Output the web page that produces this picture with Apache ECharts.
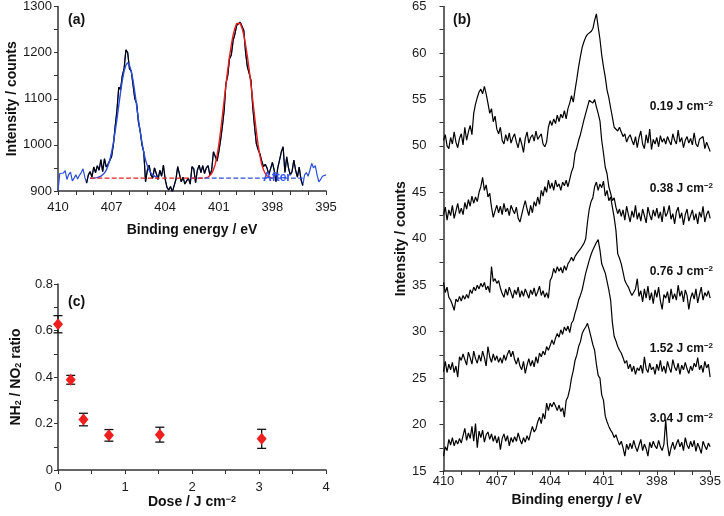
<!DOCTYPE html>
<html>
<head>
<meta charset="utf-8">
<script src="https://cdn.jsdelivr.net/npm/echarts@6/dist/echarts.min.js"></script>
<style>html,body{margin:0;padding:0;background:#fff}#c{width:724px;height:516px}</style>
</head>
<body>
<div id="c"></div>
<script>
// ---------- Panel (a): N 1s spectrum with fits ----------
const aStart = 410, aStep = 0.1;
const aRaw = [900,938,940,939,944,925,936,941,922,928,
935,926,934,940,948,930,917,935,942,930,
952,940,955,945,968,942,970,952,958,962,
975,1000,1040,1075,1125,1120,1150,1165,1206,1200,
1165,1160,1158,1100,1090,1050,1030,1000,985,920,
945,956,935,928,950,938,925,945,932,956,
925,908,902,910,898,900,925,953,950,920,
930,915,922,928,915,953,948,918,945,956,
940,955,938,950,955,935,945,985,982,965,
985,1010,1040,1075,1133,1150,1187,1195,1226,1240,
1259,1262,1266,1264,1248,1200,1169,1155,1140,1082,
1040,1003,990,981,965,953,958,950,935,938,
962,945,920,950,967,985,996,940,974,950,
935,942,967,945,930,952,925,912,935,940,
932,945,960,950,955,935,920,925,932,928,935];
const aBlackFrom = 16, aBlackTo = 137;           // index range drawn in black
const aBlueFitStart = 408.2;
const aBlueFit = [928,928,928,929,929,930,932,935,939,945,955,967,984,1005,1029,1056,1085,1114,1140,1160,1173,1178,
1173,1160,1140,1114,1085,1056,1029,1005,984,967,955,945,939,935,932,930,929];
const aRedFitStart = 401.8;
const aRedFit = [928,929,930,933,938,946,958,976,1000,1030,1063,1097,1131,1163,1192,1217,1238,1253,1263,1266,
1263,1253,1238,1217,1192,1163,1131,1097,1063,1030,1000,976,958,946,938,933,930,929,928];
const aBaseline = 928;
const aBaseRed = [408.2, 401.8];
const aBaseBlue = [402.6, 396.3];

// ---------- Panel (b): spectra vs dose ----------
const bStart = 410, bStep = 0.1;
const bLabels = ['0.19', '0.38', '0.76', '1.52', '3.04'];
const b019 = [50.6,51.2,50.0,49.7,50.9,50.2,51.5,50.4,49.8,50.8,
51.3,50.1,52.0,50.6,51.5,52.2,51.2,53.5,54.5,55.2,
55.8,56.1,55.6,56.4,55.6,54.6,53.5,54.0,52.6,53.2,
51.8,51.3,52.0,50.6,50.2,51.2,50.5,51.4,50.3,50.9,
51.3,50.4,49.8,50.9,50.2,49.3,50.8,51.5,50.3,50.9,
51.2,50.5,51.6,50.7,50.9,51.3,50.2,49.9,50.4,52.0,
52.7,52.2,52.9,52.4,53.3,52.6,53.4,53.0,53.8,52.9,
54.0,54.6,55.4,54.7,56.0,57.2,58.5,59.6,60.6,61.2,
61.7,62.0,61.8,62.3,62.6,63.5,64.2,62.8,61.5,59.8,
58.5,57.4,56.0,55.2,54.1,53.1,52.0,52.2,51.6,52.0,
51.5,51.0,51.3,50.4,50.9,51.2,50.6,50.1,51.0,49.8,
50.9,51.6,50.2,49.7,51.2,50.3,51.8,49.6,50.7,50.2,
50.9,49.9,51.1,50.4,50.8,50.2,51.0,50.5,50.1,51.3,
50.6,50.2,51.7,50.4,50.9,49.8,50.6,51.0,50.3,50.8,
50.1,51.4,50.2,49.9,50.7,50.5,51.0,49.7,50.4,50.6,49.4];
const b038 = [42.6,43.4,42.0,43.1,42.5,43.6,42.2,43.0,43.8,42.7,
43.3,42.6,43.9,43.2,44.2,43.5,44.6,43.8,44.5,44.0,
45.0,45.6,46.6,45.2,45.8,44.5,44.9,43.4,42.3,43.0,
43.6,42.8,43.5,42.6,43.8,42.9,43.3,42.5,43.6,43.1,
42.7,43.4,42.2,41.8,42.0,43.4,44.1,43.2,42.5,43.6,
42.8,44.0,43.5,44.5,43.7,45.2,44.6,45.6,45.0,46.3,
45.4,46.0,45.2,46.3,45.6,45.9,45.2,46.1,45.7,46.3,
45.6,46.4,47.2,47.7,49.2,49.8,50.6,51.2,52.0,52.8,
53.5,54.2,54.9,55.1,54.6,55.0,54.2,53.5,52.7,50.6,
49.2,47.7,47.0,45.6,44.9,44.1,44.4,43.4,42.7,43.2,
42.4,43.1,42.0,43.5,42.6,41.8,43.0,42.3,43.6,42.1,
42.8,41.9,43.2,42.5,41.7,43.4,42.6,42.0,43.1,42.4,
43.3,42.2,42.9,41.8,43.5,42.4,42.8,43.6,42.1,42.7,
41.6,42.9,43.4,42.2,42.8,41.5,42.6,43.2,41.9,42.5,
43.1,42.0,42.7,41.6,42.9,42.3,43.5,41.8,42.6,43.0,42.2];
const b076 = [35.3,34.2,34.8,33.7,33.4,32.9,32.3,33.5,33.2,33.8,
33.3,33.9,33.5,34.0,33.6,34.5,34.1,34.8,34.4,35.0,
34.6,35.2,34.8,35.3,34.5,34.9,34.2,37.0,35.4,35.7,
35.2,35.5,34.7,34.1,33.7,34.6,33.9,34.8,34.2,33.6,
34.5,34.0,34.8,33.7,34.4,33.8,34.6,34.1,33.6,34.5,
34.0,34.7,33.8,34.3,34.9,33.9,34.4,33.7,34.2,33.6,
35.5,35.9,36.8,36.3,37.0,36.5,36.9,36.3,37.1,36.6,
37.3,37.6,38.0,37.6,38.1,38.4,38.6,38.9,39.1,39.5,
40.0,41.8,43.2,44.0,44.4,45.6,46.1,45.2,45.9,45.5,
46.2,44.6,45.2,44.1,44.5,43.4,42.3,40.9,38.4,37.9,
37.3,36.4,35.5,35.1,34.8,34.3,33.9,34.1,34.6,35.7,
33.8,34.4,33.2,34.6,33.6,34.9,33.4,34.2,33.0,34.5,
33.7,34.8,33.3,32.4,34.0,33.6,34.3,33.1,34.6,33.5,
34.1,33.4,35.0,33.8,34.4,33.2,34.5,33.9,32.4,33.6,
34.2,33.5,34.6,33.1,34.0,34.8,33.4,34.2,33.8,34.4,33.6];
const b152 = [25.7,26.8,25.6,26.5,25.9,26.7,25.6,26.3,25.1,27.3,
26.9,27.6,27.0,26.4,27.8,27.2,26.5,27.9,27.1,26.6,
27.5,26.8,27.9,27.2,26.3,28.4,27.3,26.7,27.6,26.9,
27.4,26.7,27.2,26.6,27.5,26.9,27.6,28.0,27.3,27.9,
27.0,26.5,27.2,26.3,25.9,26.8,25.5,26.4,27.1,26.3,
26.9,26.2,27.3,26.6,27.7,27.3,27.9,27.5,28.4,28.0,
28.5,29.1,28.6,29.3,29.8,29.4,30.2,29.7,30.5,30.1,
30.6,29.9,30.9,31.2,32.0,32.6,33.4,33.9,34.5,35.4,
36.3,37.0,37.7,38.3,38.8,39.2,39.6,39.9,38.8,37.3,
36.8,36.3,35.4,34.5,33.4,31.0,29.5,29.0,28.4,28.0,
27.7,27.2,26.6,26.9,26.0,26.5,25.7,26.3,25.4,26.1,
25.8,26.4,25.5,27.3,26.0,25.6,26.6,25.9,26.2,25.4,
26.5,25.8,26.9,25.7,26.3,25.5,26.8,26.1,25.6,27.0,
26.2,25.8,26.6,25.4,26.4,25.9,26.7,26.0,25.5,26.3,
25.8,26.6,26.2,27.2,25.9,26.4,25.6,26.8,26.1,26.5,25.1];
const b304 = [16.6,17.6,17.2,18.4,17.8,18.6,17.7,18.3,17.9,18.5,
18.0,18.8,19.6,18.3,19.1,18.5,19.8,18.2,20.1,17.5,
19.3,18.6,19.4,18.1,18.9,19.2,18.4,19.0,18.2,18.8,
18.0,18.7,17.3,18.5,19.0,18.2,18.8,17.7,18.6,18.1,
18.7,18.2,19.1,18.4,17.9,18.6,18.1,18.8,18.3,19.1,
19.8,19.2,19.5,20.3,20.8,20.1,21.2,20.6,22.3,21.5,
22.3,21.9,22.4,22.0,21.5,22.1,21.4,21.8,20.8,22.6,
23.0,23.8,25.0,25.8,26.9,27.5,28.4,28.9,29.8,30.2,
30.5,30.9,30.2,29.4,28.6,28.0,26.5,25.3,25.0,23.2,
22.6,20.9,20.3,19.8,19.4,19.1,18.6,18.9,18.3,17.8,
18.2,17.5,16.6,17.9,17.3,18.0,17.4,18.3,17.6,17.1,
17.8,18.4,17.2,17.9,17.4,16.6,18.1,17.5,18.2,17.7,
17.4,18.3,17.6,17.2,17.9,20.5,17.8,16.6,17.5,18.1,
17.3,17.9,18.4,17.6,18.1,17.2,18.6,17.8,17.4,18.2,
17.6,18.3,17.1,18.0,17.5,16.9,18.2,17.7,17.3,18.0,17.6];

// ---------- Panel (c): NH2/NO2 ratio vs dose ----------
const cDose = [0, 0.19, 0.38, 0.76, 1.52, 3.04];
const cRatio = [0.627, 0.388, 0.217, 0.149, 0.152, 0.134];
const cErr = [0.037, 0.019, 0.027, 0.025, 0.032, 0.041];

// ---------- helpers ----------
const FONT = "'Liberation Sans', Arial, Helvetica, sans-serif";
const AX = '#333';
const toXY = (start, step, arr) => arr.map((v, i) => [+(start - i * step).toFixed(2), v]);
const plainNum = v => String(+(+v).toFixed(3));

function baseAxis(extra) {
  return Object.assign({
    type: 'value',
    axisLine: { show: true, onZero: false, lineStyle: { color: AX, width: 1.5 } },
    axisTick: { show: true, inside: false, length: 4, lineStyle: { color: AX, width: 1 } },
    minorTick: { show: true, length: 4, lineStyle: { color: AX, width: 1 } },
    splitLine: { show: false },
    minorSplitLine: { show: false },
    nameLocation: 'middle',
    nameTextStyle: { fontFamily: FONT, fontWeight: 'bold', fontSize: 14, color: '#111' }
  }, extra);
}
function lab(margin) {
  return { show: true, margin: margin, fontFamily: FONT, fontSize: 13, color: '#1a1a1a', formatter: plainNum };
}

const chart = echarts.init(document.getElementById('c'), null, { renderer: 'canvas', width: 724, height: 516 });

const lineStyle = (color, w, type) => ({ color: color, width: w, type: type || 'solid' });
const mkLine = (idx, data, color, w, z, type) => ({
  type: 'line', xAxisIndex: idx, yAxisIndex: idx, data: data, showSymbol: false, symbol: 'none',
  lineStyle: lineStyle(color, w, type), itemStyle: { color: color }, z: z, animation: false, silent: true
});

const aAll = toXY(aStart, aStep, aRaw);
const bSeriesData = [b019, b038, b076, b152, b304];

const series = [
  mkLine(0, aAll, '#2b4fd6', 1.2, 2),
  mkLine(0, aAll.slice(aBlackFrom, aBlackTo + 1), '#000', 1.2, 3),
  mkLine(0, toXY(aBlueFitStart, 0.1, aBlueFit), '#2b4fd6', 1.4, 4),
  mkLine(0, toXY(aRedFitStart, 0.1, aRedFit), '#e8201c', 1.4, 5),
  mkLine(0, [[aBaseBlue[0], aBaseline], [aBaseBlue[1], aBaseline]], '#2b4fd6', 1.2, 6, 'dashed'),
  mkLine(0, [[aBaseRed[0], aBaseline], [aBaseRed[1], aBaseline]], '#e8201c', 1.2, 7, 'dashed')
];
bSeriesData.forEach(arr => series.push(mkLine(1, toXY(bStart, bStep, arr), '#000', 1.2, 3)));

series.push({
  type: 'custom', xAxisIndex: 2, yAxisIndex: 2, clip: false, animation: false, silent: true, z: 3,
  data: cDose.map((d, i) => [d, cRatio[i], cRatio[i] - cErr[i], cRatio[i] + cErr[i]]),
  encode: { x: 0, y: [1, 2, 3] },
  renderItem: function (params, api) {
    const x = api.value(0);
    const lo = api.coord([x, api.value(2)]);
    const hi = api.coord([x, api.value(3)]);
    const h = 4.5;
    const st = { stroke: '#111', lineWidth: 1.3 };
    return { type: 'group', children: [
      { type: 'line', shape: { x1: lo[0], y1: lo[1], x2: hi[0], y2: hi[1] }, style: st },
      { type: 'line', shape: { x1: lo[0] - h, y1: lo[1], x2: lo[0] + h, y2: lo[1] }, style: st },
      { type: 'line', shape: { x1: hi[0] - h, y1: hi[1], x2: hi[0] + h, y2: hi[1] }, style: st }
    ] };
  }
});
series.push({
  type: 'scatter', xAxisIndex: 2, yAxisIndex: 2, symbol: 'diamond', symbolSize: [10, 12],
  data: cDose.map((d, i) => [d, cRatio[i]]), itemStyle: { color: '#ee1f1f', opacity: 1 },
  z: 5, animation: false, silent: true
});

const energyAxis = (gi, labMargin, nameGap) => baseAxis({
  gridIndex: gi, min: 395, max: 410, interval: 3, inverse: true,
  minorTick: { show: true, splitNumber: 3, length: 4, lineStyle: { color: AX, width: 1 } },
  axisLabel: lab(labMargin), name: 'Binding energy / eV', nameGap: nameGap
});

const doseLabel = (txt, y) => ({
  type: 'text', x: 713, y: y, silent: true, z: 100,
  style: {
    text: '{m|' + txt + ' J cm}{s|\u22122}', x: 0, y: 0, align: 'right', verticalAlign: 'middle',
    textAlign: 'right', textVerticalAlign: 'middle',
    rich: {
      m: { fontFamily: FONT, fontWeight: 'bold', fontSize: 12, fill: '#111', color: '#111', lineHeight: 14 },
      s: { fontFamily: FONT, fontWeight: 'bold', fontSize: 8, fill: '#111', color: '#111', verticalAlign: 'top', lineHeight: 14 }
    }
  }
});
const panelLabel = (txt, x, y) => ({
  type: 'text', x: x, y: y, silent: true, z: 100,
  style: { text: txt, font: 'bold 14px ' + FONT, fill: '#111', textVerticalAlign: 'middle', verticalAlign: 'middle' }
});

const option = {
  backgroundColor: '#fff',
  animation: false,
  grid: [
    { left: 58, top: 6, width: 268, height: 185 },
    { left: 443.5, top: 6, width: 269, height: 465 },
    { left: 58, top: 284, width: 268, height: 186 }
  ],
  xAxis: [
    energyAxis(0, 10, 32),
    energyAxis(1, 4, 20),
    baseAxis({ gridIndex: 2, min: 0, max: 4, interval: 1,
      minorTick: { show: true, splitNumber: 2, length: 4, lineStyle: { color: AX, width: 1 } },
      axisLabel: lab(11), name: 'Dose / J cm{s|\u22122}', nameGap: 23,
      nameTextStyle: { fontFamily: FONT, fontWeight: 'bold', fontSize: 14, color: '#111',
        rich: { s: { fontFamily: FONT, fontWeight: 'bold', fontSize: 9, color: '#111', verticalAlign: 'top' } } } })
  ],
  yAxis: [
    baseAxis({ gridIndex: 0, min: 900, max: 1300, interval: 100,
      minorTick: { show: true, splitNumber: 2, length: 4, lineStyle: { color: AX, width: 1 } },
      axisLabel: lab(6), name: 'Intensity / counts', nameGap: 38 }),
    baseAxis({ gridIndex: 1, min: 15, max: 65, interval: 5,
      minorTick: { show: true, splitNumber: 2, length: 4, lineStyle: { color: AX, width: 1 } },
      axisLabel: lab(17), name: 'Intensity / counts', nameGap: 34 }),
    baseAxis({ gridIndex: 2, min: 0, max: 0.8, interval: 0.2,
      minorTick: { show: true, splitNumber: 2, length: 4, lineStyle: { color: AX, width: 1 } },
      axisLabel: lab(5), name: 'NH{s|2} / NO{s|2} ratio', nameGap: 35,
      nameTextStyle: { fontFamily: FONT, fontWeight: 'bold', fontSize: 14, color: '#111',
        rich: { s: { fontFamily: FONT, fontWeight: 'bold', fontSize: 9, color: '#111', verticalAlign: 'bottom' } } } })
  ],
  series: series,
  graphic: [
    panelLabel('(a)', 68, 20),
    panelLabel('(b)', 453, 20),
    panelLabel('(c)', 68, 302),
    { type: 'text', x: 277, y: 178, silent: true, z: 100,
      style: { text: 'After', font: 'bold 12px ' + FONT, fill: '#3557ee', align: 'center', textAlign: 'center', verticalAlign: 'middle', textVerticalAlign: 'middle' } },
    doseLabel(bLabels[0], 107),
    doseLabel(bLabels[1], 189),
    doseLabel(bLabels[2], 272),
    doseLabel(bLabels[3], 349),
    doseLabel(bLabels[4], 419)
  ]
};
chart.setOption(option);
</script>
</body>
</html>
